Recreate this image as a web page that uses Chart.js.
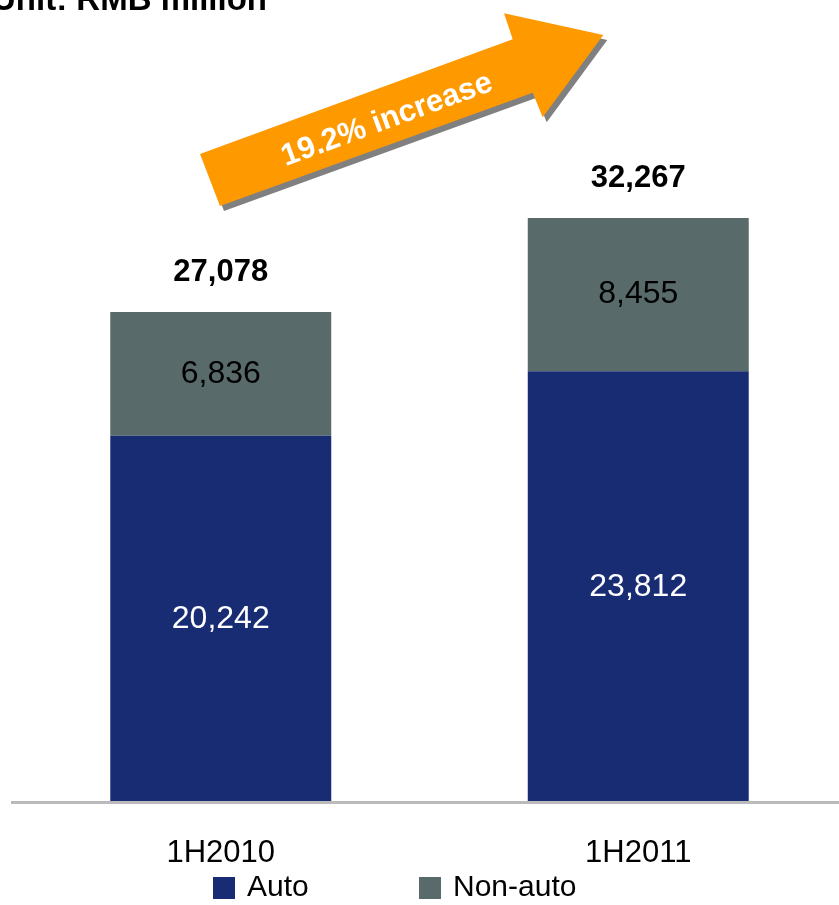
<!DOCTYPE html>
<html>
<head>
<meta charset="utf-8">
<script src="https://cdn.jsdelivr.net/npm/chart.js@4.4.1/dist/chart.umd.min.js"></script>
<style>
  html, body { margin: 0; padding: 0; background: #fff; overflow: hidden; }
  canvas { display: block; }
</style>
</head>
<body>
<canvas id="c" width="848" height="905"></canvas>
<script>
// Premium income by line of business, RMB million
const categories = ['1H2010', '1H2011'];
const autoValues = [20242, 23812];
const nonAutoValues = [6836, 8455];
const seriesNames = ['Auto', 'Non-auto'];
const unitLabel = 'Unit: RMB million';

const totals = categories.map((_, i) => autoValues[i] + nonAutoValues[i]);
const growthPct = ((totals[totals.length - 1] / totals[0] - 1) * 100).toFixed(1);
const arrowLabel = growthPct + '% increase';

const FONT = '"Liberation Sans", Arial, Helvetica, sans-serif';
const AUTO_COLOR = '#182C74';
const NONAUTO_COLOR = '#596A6B';
const fmt = v => v.toLocaleString('en-US');

// Segment values inside each bar plus the stacked total above it
const valueLabels = {
  id: 'valueLabels',
  afterDatasetsDraw(chart) {
    const ctx = chart.ctx;
    ctx.save();
    ctx.textAlign = 'center';
    ctx.textBaseline = 'middle';
    chart.data.datasets.forEach((ds, di) => {
      const meta = chart.getDatasetMeta(di);
      meta.data.forEach((bar, i) => {
        ctx.font = '32px ' + FONT;
        ctx.fillStyle = di === 0 ? '#ffffff' : '#000000';
        ctx.fillText(fmt(ds.data[i]), bar.x, (bar.y + bar.base) / 2);
      });
    });
    const top = chart.getDatasetMeta(chart.data.datasets.length - 1);
    top.data.forEach((bar, i) => {
      ctx.font = 'bold 31px ' + FONT;
      ctx.fillStyle = '#000000';
      ctx.fillText(fmt(totals[i]), bar.x, bar.y - 40);
    });
    ctx.restore();
  }
};

// Unit caption, growth arrow and legend
const decorations = {
  id: 'decorations',
  afterDraw(chart) {
    const ctx = chart.ctx;
    ctx.save();

    ctx.font = 'bold 33px ' + FONT;
    ctx.fillStyle = '#000';
    ctx.textAlign = 'left';
    ctx.textBaseline = 'alphabetic';
    ctx.fillText(unitLabel, -8, 10);

    const arrow = [[200, 154], [512.7, 39.3], [504, 13.3], [603.3, 35], [542.7, 117.3], [532.7, 92.7], [220, 206]];
    const path = (dx, dy) => {
      ctx.beginPath();
      arrow.forEach(([x, y], k) => k ? ctx.lineTo(x + dx, y + dy) : ctx.moveTo(x + dx, y + dy));
      ctx.closePath();
    };
    path(4, 5);
    ctx.fillStyle = '#808080';
    ctx.fill();
    path(0, 0);
    ctx.fillStyle = '#FF9900';
    ctx.fill();

    ctx.translate(387, 120);
    ctx.rotate(-20.1 * Math.PI / 180);
    ctx.font = 'bold 31px ' + FONT;
    ctx.fillStyle = '#ffffff';
    ctx.textAlign = 'center';
    ctx.textBaseline = 'middle';
    ctx.fillText(arrowLabel, 0, 0);
    ctx.setTransform(1, 0, 0, 1, 0, 0);

    const legendItems = [
      { text: seriesNames[0], color: AUTO_COLOR, x: 213 },
      { text: seriesNames[1], color: NONAUTO_COLOR, x: 419 }
    ];
    ctx.font = '30px ' + FONT;
    ctx.textAlign = 'left';
    ctx.textBaseline = 'middle';
    legendItems.forEach(it => {
      ctx.fillStyle = it.color;
      ctx.fillRect(it.x, 877, 22, 22);
      ctx.fillStyle = '#000';
      ctx.fillText(it.text, it.x + 34, 888);
    });

    ctx.restore();
  }
};

new Chart(document.getElementById('c'), {
  type: 'bar',
  data: {
    labels: categories,
    datasets: [
      { label: seriesNames[0], data: autoValues, backgroundColor: AUTO_COLOR, borderWidth: 0 },
      { label: seriesNames[1], data: nonAutoValues, backgroundColor: NONAUTO_COLOR, borderWidth: 0 }
    ]
  },
  options: {
    responsive: false,
    devicePixelRatio: 1,
    animation: false,
    categoryPercentage: 1,
    barPercentage: 0.5293,
    layout: { padding: { left: 12, right: 1, top: 0, bottom: 0 } },
    plugins: {
      legend: { display: false },
      tooltip: { enabled: false },
      title: { display: false }
    },
    scales: {
      x: {
        stacked: true,
        grid: { display: false, drawTicks: false },
        border: { display: true, color: '#bababa', width: 3, z: 1 },
        ticks: { color: '#000', font: { family: FONT, size: 31 }, padding: 32 },
        afterFit(scale) { scale.height = 102.5; }
      },
      y: {
        stacked: true,
        display: false,
        min: 0,
        max: 44302
      }
    }
  },
  plugins: [valueLabels, decorations]
});
</script>
</body>
</html>
